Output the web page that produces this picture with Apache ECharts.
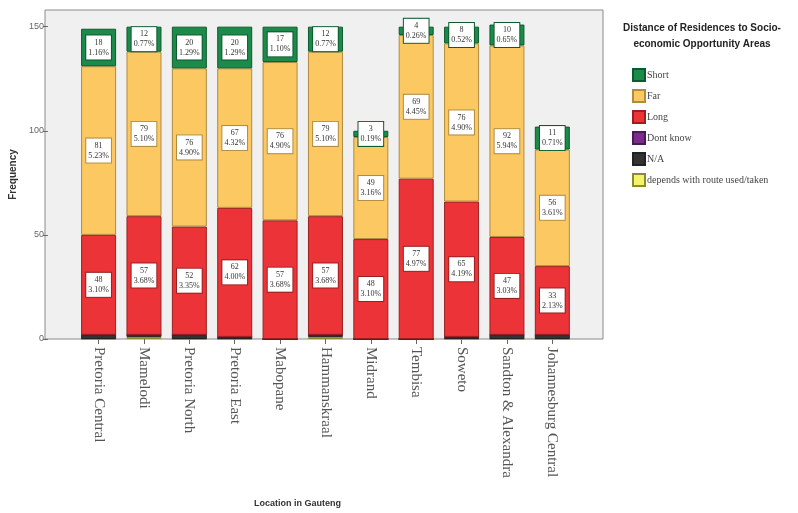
<!DOCTYPE html>
<html>
<head>
<meta charset="utf-8">
<script src="https://cdn.jsdelivr.net/npm/echarts@6/dist/echarts.min.js"></script>
<style>
  html, body { margin: 0; padding: 0; background: #fff; }
  #chart { width: 798px; height: 513px; }
</style>
</head>
<body>
<div id="chart"></div>
<script>
// categories and counts
var locations = ["Pretoria Central", "Mamelodi", "Pretoria North", "Pretoria East", "Mabopane",
  "Hammanskraal", "Midrand", "Tembisa", "Soweto", "Sandton & Alexandra", "Johannesburg Central"];
var shortVals = [18, 12, 20, 20, 17, 12, 3, 4, 8, 10, 11];
var farVals = [81, 79, 76, 67, 76, 79, 49, 69, 76, 92, 56];
var longVals = [48, 57, 52, 62, 57, 57, 48, 77, 65, 47, 33];
var dontKnowVals = [0, 0, 0, 0, 0, 0, 0, 0, 0, 0, 0];
var naVals = [2, 1, 2, 1, 0, 1, 0, 0, 1, 2, 2];
var dependsVals = [0, 1, 0, 0, 0, 1, 0, 0, 0, 0, 0];
var shortPct = ["1.16%", "0.77%", "1.29%", "1.29%", "1.10%", "0.77%", "0.19%", "0.26%", "0.52%", "0.65%", "0.71%"];
var farPct = ["5.23%", "5.10%", "4.90%", "4.32%", "4.90%", "5.10%", "3.16%", "4.45%", "4.90%", "5.94%", "3.61%"];
var longPct = ["3.10%", "3.68%", "3.35%", "4.00%", "3.68%", "3.68%", "3.10%", "4.97%", "4.19%", "3.03%", "2.13%"];
var yTicks = [0, 50, 100, 150];

var chart = echarts.init(document.getElementById("chart"));

function boxLabel(pcts, border) {
  return {
    show: true,
    position: "inside",
    formatter: function (p) {
      return p.value + "\n" + pcts[p.dataIndex];
    },
    fontFamily: "Liberation Serif",
    fontSize: 8,
    lineHeight: 10,
    color: "#333",
    backgroundColor: "#fff",
    borderColor: border,
    borderWidth: 1,
    padding: [2, 2]
  };
}

function seg(name, data, color, border, label) {
  return {
    name: name,
    type: "bar",
    stack: "all",
    data: data,
    barWidth: 35,
    itemStyle: { color: color, borderColor: border, borderWidth: 1 },
    label: label || { show: false },
    emphasis: { disabled: true }
  };
}

var option = {
  animation: false,
  textStyle: { fontFamily: "Liberation Sans" },
  title: {
    text: "Distance of Residences to Socio-\neconomic Opportunity Areas",
    left: 697,
    top: 15,
    textAlign: "center",
    textStyle: { fontSize: 10, fontWeight: "bold", color: "#222", lineHeight: 16, fontFamily: "Liberation Sans" }
  },
  graphic: [
    {
      type: "rect",
      z: -10,
      silent: true,
      shape: { x: 45, y: 10, width: 558, height: 329 },
      style: { fill: "#f0f0f0", stroke: "#8a8a8a", lineWidth: 1 }
    }
  ],
  legend: {
    orient: "vertical",
    left: 627,
    top: 63,
    itemWidth: 12,
    itemHeight: 12,
    itemGap: 7,
    icon: "rect",
    selectedMode: false,
    data: ["Short", "Far", "Long", "Dont know", "N/A", "depends with route used/taken"],
    textStyle: { fontFamily: "Liberation Serif", fontSize: 10, color: "#444", padding: [0, 0, 0, -3] }
  },
  grid: { left: 73, right: 223, top: 10, bottom: 174 },
  xAxis: {
    type: "category",
    data: locations,
    name: "Location in Gauteng",
    nameLocation: "middle",
    nameGap: 0,
    nameTextStyle: { fontSize: 9, fontWeight: "bold", color: "#333", padding: [160, 0, 0, -56] },
    axisLine: { show: false },
    axisTick: { show: true, alignWithLabel: true, length: 5, lineStyle: { color: "#666" } },
    axisLabel: {
      rotate: -90,
      interval: 0,
      margin: 8,
      fontFamily: "Liberation Serif",
      fontSize: 15,
      color: "#555"
    }
  },
  yAxis: {
    type: "value",
    min: 0,
    max: 158,
    offset: 28,
    name: "Frequency",
    nameLocation: "middle",
    nameGap: 28,
    nameTextStyle: { fontSize: 10, fontWeight: "bold", color: "#333" },
    axisLine: { show: false },
    axisTick: { show: true, length: 5, customValues: yTicks, lineStyle: { color: "#666" } },
    axisLabel: { customValues: yTicks, fontSize: 9, color: "#666", margin: 4 },
    splitLine: { show: false }
  },
  series: [
    seg("depends with route used/taken", dependsVals, "#f4f46a", "#8a8a30"),
    seg("N/A", naVals, "#333333", "#222"),
    seg("Dont know", dontKnowVals, "#7a2d8c", "#4a1a55"),
    seg("Long", longVals, "#ec3338", "#9a2020", boxLabel(longPct, "#9a2020")),
    seg("Far", farVals, "#fcc862", "#b08b40", boxLabel(farPct, "#b08b40")),
    seg("Short", shortVals, "#1b8a4a", "#0e5a2e", boxLabel(shortPct, "#0e5a2e"))
  ]
};

chart.setOption(option);
</script>
</body>
</html>
